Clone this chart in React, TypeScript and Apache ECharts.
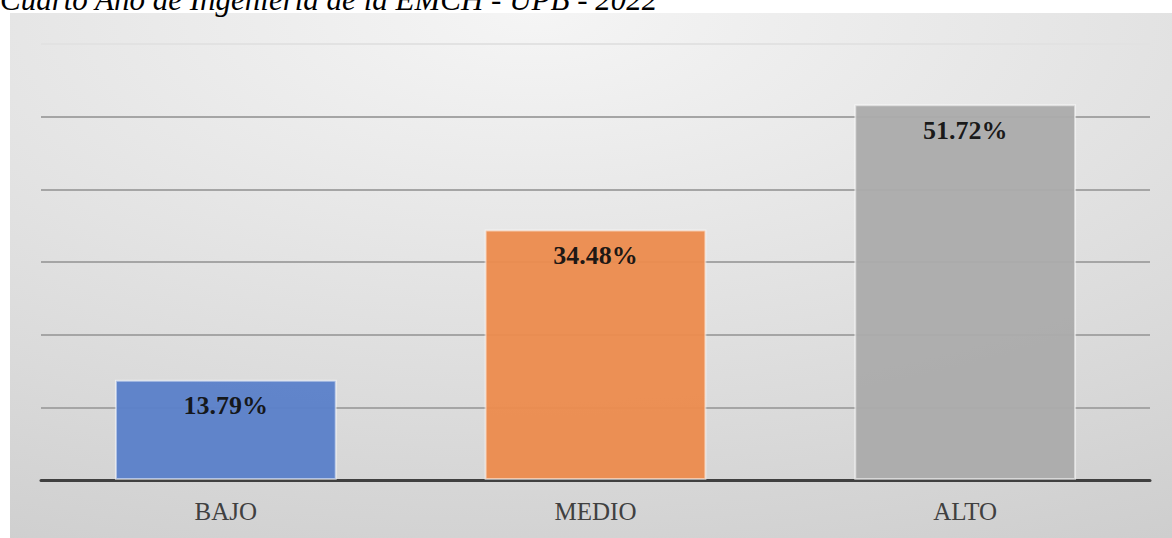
import React, { useEffect, useRef } from "react";
import * as echarts from "echarts";

const categories = ["BAJO", "MEDIO", "ALTO"];
const values = [13.79, 34.48, 51.72];
const barColors = ["#5a80c9", "#ec8b4d", "#ababab"];
const titleText = "Cuarto Año de Ingeniería de la EMCH - UPB - 2022";

export default function App() {
  const ref = useRef<HTMLDivElement>(null);
  useEffect(() => {
    if (!ref.current) return;
    const chart = echarts.init(ref.current, undefined, { renderer: "svg" });
    chart.setOption({
      animation: false,
      graphic: [
        {
          type: "rect",
          z: -10,
          silent: true,
          shape: { x: 10, y: 13, width: 1162, height: 525 },
          style: {
            fill: new echarts.graphic.RadialGradient(0.45, 0, 1.45, [
              { offset: 0, color: "#f5f5f5" },
              { offset: 0.55, color: "#dadada" },
              { offset: 1, color: "#c3c3c3" },
            ]),
          },
        },
        {
          type: "text",
          x: 0,
          y: 15,
          silent: true,
          style: {
            text: titleText,
            font: "italic 31px 'Liberation Serif'",
            fill: "#000",
            verticalAlign: "bottom",
          },
        },
      ],
      grid: { left: 41, right: 22, top: 44, bottom: 58 },
      xAxis: {
        type: "category",
        data: categories,
        axisTick: { show: false },
        axisLine: { lineStyle: { color: "#404040", width: 3 } },
        axisLabel: {
          color: "#404040",
          fontFamily: "Liberation Serif",
          fontSize: 25,
          margin: 19,
        },
      },
      yAxis: {
        type: "value",
        min: 0,
        max: 60,
        interval: 10,
        axisLabel: { show: false },
        axisLine: { show: false },
        axisTick: { show: false },
        splitLine: {
          lineStyle: {
            color: ["#a5a5a5", "#a5a5a5", "#a5a5a5", "#a5a5a5", "#a5a5a5", "#a5a5a5", "#e2e2e2"],
            width: 2,
          },
        },
      },
      series: [
        {
          type: "bar",
          barWidth: "60%",
          data: values.map((v, i) => ({
            value: v,
            itemStyle: {
              color: barColors[i],
              opacity: 0.95,
              borderColor: "rgba(255,255,255,0.55)",
              borderWidth: 2,
            },
          })),
          label: {
            show: true,
            position: "insideTop",
            distance: 13,
            formatter: (p: any) => p.value.toFixed(2) + "%",
            fontFamily: "Liberation Serif",
            fontWeight: "bold",
            fontSize: 26,
            color: "#111",
          },
        },
      ],
    });
    return () => chart.dispose();
  }, []);
  return (
    <div
      ref={ref}
      style={{ position: "absolute", left: 0, top: 0, width: 1172, height: 538 }}
    />
  );
}
